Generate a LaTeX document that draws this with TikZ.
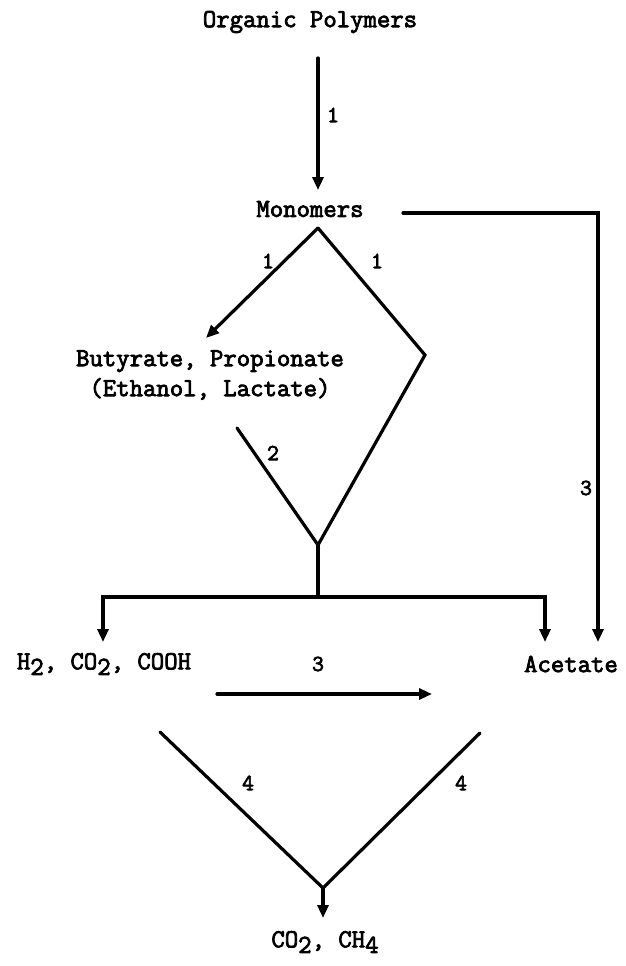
\documentclass[tikz,border=0pt]{standalone}
\usepackage{fontspec}
\newfontfamily\twfont[FakeBold=3]{Latin Modern Mono}
\usetikzlibrary{arrows.meta}
\newcommand{\lsub}[1]{\raisebox{-0.5ex}{#1}}
\begin{document}
\begin{tikzpicture}[x=1pt,y=-1pt,
  txt/.style={inner sep=0pt,font=\fontsize{26}{30}\selectfont\twfont},
  lbl/.style={inner sep=0pt,font=\fontsize{23}{27}\selectfont\twfont},
  ln/.style={line width=3.2pt,line cap=round,line join=miter},
  arr/.style={ln,-{Triangle[length=13pt,width=11pt]}}]
\useasboundingbox (0,0) rectangle (625,966);
% texts
\node[txt] (org) at (310,22) {Organic Polymers};
\node[txt] (mono) at (310,209) {Monomers};
\node[txt,align=center] (buty) at (210,375) {Butyrate, Propionate\\(Ethanol, Lactate)};
\node[txt] (h2) at (104,664) {H\lsub{2}, CO\lsub{2}, COOH};
\node[txt] (ace) at (571,664) {Acetate};
\node[txt] (prod) at (325,942) {CO\lsub{2}, CH\lsub{4}};
% coordinates
\coordinate (a1s) at (318,58);
\coordinate (a1e) at (318,190);
\coordinate (mr0) at (403,213);
\coordinate (mr1) at (598,213);
\coordinate (mr2) at (598,642);
\coordinate (dtop) at (318,228);
\coordinate (dleft) at (206,338);
\coordinate (dright) at (425,355);
\coordinate (dbot) at (318,545);
\coordinate (dls) at (237,428);
\coordinate (hj) at (318,597);
\coordinate (hl) at (103,597);
\coordinate (hr) at (545,597);
\coordinate (hld) at (103,642);
\coordinate (hrd) at (545,642);
\coordinate (t3s) at (217,694);
\coordinate (t3e) at (432,694);
\coordinate (vl) at (160,732);
\coordinate (vr) at (480,733);
\coordinate (vb) at (323,888);
\coordinate (vbe) at (323,918);
% connectors
\draw[arr] (a1s) -- (a1e);
\draw[arr] (mr0) -- (mr1) -- (mr2);
\draw[arr] (dtop) -- (dleft);
\draw[ln] (dtop) -- (dright) -- (dbot);
\draw[ln] (dls) -- (dbot);
\draw[ln] (dbot) -- (hj);
\draw[arr] (hj) -- (hl) -- (hld);
\draw[arr] (hj) -- (hr) -- (hrd);
\draw[arr] (t3s) -- (t3e);
\draw[ln] (vl) -- (vb) -- (vr);
\draw[arr] (vb) -- (vbe);
% labels
\node[lbl] (l1) at (333,115) {1};
\node[lbl] (l1a) at (268,261) {1};
\node[lbl] (l1b) at (377,261) {1};
\node[lbl] (l3r) at (586,488) {3};
\node[lbl] (l2) at (273,453) {2};
\node[lbl] (l3) at (318,664) {3};
\node[lbl] (l4a) at (248,783) {4};
\node[lbl] (l4b) at (461,783) {4};
\end{tikzpicture}
\end{document}
